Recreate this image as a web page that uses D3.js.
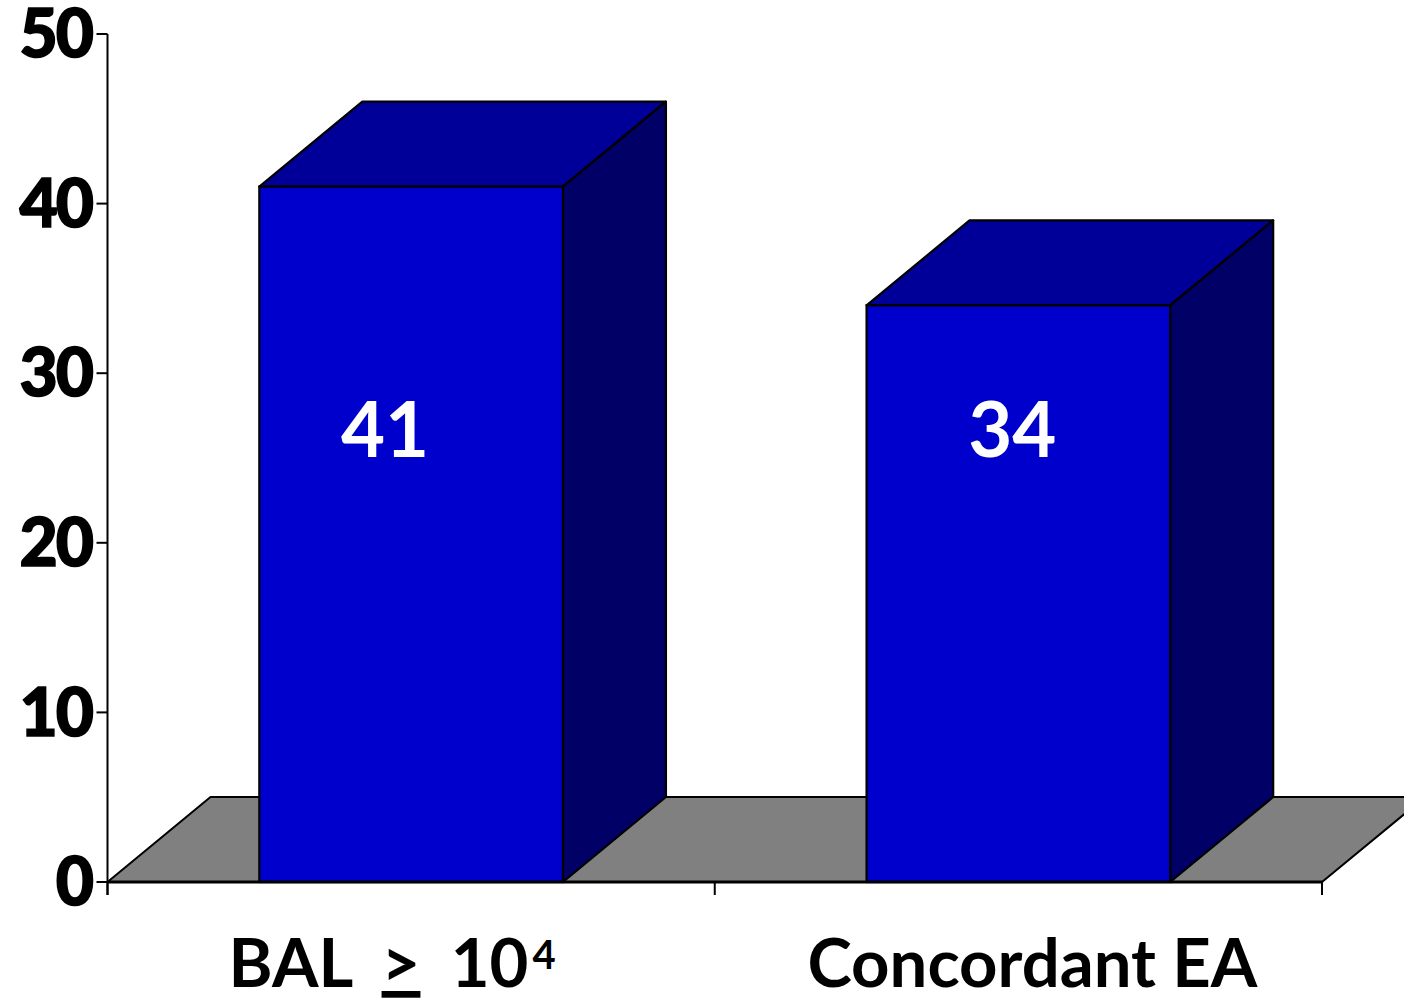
<!DOCTYPE html>
<html>
<head>
<meta charset="utf-8">
<script src="https://cdn.jsdelivr.net/npm/d3@7/dist/d3.min.js"></script>
<style>
  html, body { margin: 0; padding: 0; background: #fff; }
  svg { display: block; }
</style>
</head>
<body>
<svg id="chart" width="1404" height="1002"></svg>
<script>
// Data
const categories = ["BAL ≥ 10⁴", "Concordant EA"];
const values = [41, 34];
const yTicks = [0, 10, 20, 30, 40, 50];

const plotLeft = 107.5, plotRight = 1322, plotTop = 34, plotBottom = 882;
const depthX = 103, depthY = 85;

const svg = d3.select("#chart");

const x = d3.scaleBand().domain(categories).range([plotLeft, plotRight]).padding(0);
const y = d3.scaleLinear().domain([0, 50]).range([plotBottom, plotTop]);

const colors = { front: "#0000CC", top: "#000099", side: "#000066", floor: "#808080" };

// Floor (3D base plane)
const floor = [
  [plotLeft, y(0)], [plotRight, y(0)], [plotRight + depthX, y(0) - depthY], [plotLeft + depthX, y(0) - depthY]
];
svg.append("path")
  .attr("d", d3.line()(floor) + "Z")
  .attr("fill", colors.floor)
  .attr("stroke", "#000")
  .attr("stroke-width", 2)
  .attr("stroke-linejoin", "round");

// Bars
const bw = x.bandwidth() * 0.5;
const bars = svg.append("g").selectAll("g").data(categories).join("g");

bars.each(function (c, i) {
  const g = d3.select(this);
  const x0 = x(c) + x.bandwidth() * 0.25;
  const x1 = x0 + bw;
  const yt = y(values[i]);
  const yb = y(0);
  // top face
  g.append("path")
    .attr("d", d3.line()([[x0, yt], [x1, yt], [x1 + depthX, yt - depthY], [x0 + depthX, yt - depthY]]) + "Z")
    .attr("fill", colors.top).attr("stroke", "#000").attr("stroke-width", 2.2).attr("stroke-linejoin", "round");
  // side face
  g.append("path")
    .attr("d", d3.line()([[x1, yt], [x1 + depthX, yt - depthY], [x1 + depthX, yb - depthY], [x1, yb]]) + "Z")
    .attr("fill", colors.side).attr("stroke", "#000").attr("stroke-width", 2.2).attr("stroke-linejoin", "round");
  // front face
  g.append("rect")
    .attr("x", x0).attr("y", yt).attr("width", bw).attr("height", yb - yt)
    .attr("fill", colors.front).attr("stroke", "#000").attr("stroke-width", 2.2);
});

// Value labels
svg.append("g").selectAll("text").data(values).join("text")
  .attr("x", (d, i) => x(categories[i]) + x.bandwidth() / 2 - (i === 0 ? 26 : 6))
  .attr("y", 457)
  .attr("text-anchor", "middle")
  .attr("fill", "#fff")
  .attr("font-family", "Lato, 'DejaVu Sans', sans-serif")
  .attr("font-weight", 700)
  .attr("font-size", 76)
  .text(d => d);

// Y axis
const yAxis = svg.append("g");
yAxis.append("line")
  .attr("x1", plotLeft).attr("x2", plotLeft).attr("y1", y(50)).attr("y2", y(0) + 13)
  .attr("stroke", "#000").attr("stroke-width", 2);
yAxis.selectAll("line.tick").data(yTicks).join("line")
  .attr("class", "tick")
  .attr("x1", plotLeft - 11).attr("x2", plotLeft).attr("y1", d => y(d)).attr("y2", d => y(d))
  .attr("stroke", "#000").attr("stroke-width", 2);
yAxis.selectAll("text").data(yTicks).join("text")
  .attr("x", 92).attr("y", d => y(d))
  .attr("dy", "0.35em")
  .attr("text-anchor", "end")
  .attr("font-family", "Lato, 'DejaVu Sans', sans-serif")
  .attr("font-weight", 900)
  .attr("font-size", 66)
  .attr("letter-spacing", -2)
  .attr("stroke", "#000").attr("stroke-width", 1.5)
  .attr("fill", "#000")
  .text(d => d);

// X axis line and category ticks
svg.append("line")
  .attr("x1", plotLeft).attr("x2", plotRight).attr("y1", y(0)).attr("y2", y(0))
  .attr("stroke", "#000").attr("stroke-width", 3);
svg.selectAll("line.xtick").data([...categories.map(c => x(c)), plotRight]).join("line")
  .attr("class", "xtick")
  .attr("x1", d => d).attr("x2", d => d).attr("y1", y(0)).attr("y2", y(0) + 13)
  .attr("stroke", "#000").attr("stroke-width", 2);

// Category labels
const catFont = { family: "Lato, 'DejaVu Sans', sans-serif", size: 67 };
const l1 = svg.append("text")
  .attr("x", x(categories[0]) + x.bandwidth() / 2 - 19).attr("y", 987)
  .attr("text-anchor", "middle")
  .attr("font-family", catFont.family).attr("font-weight", 700).attr("font-size", catFont.size)
  .attr("word-spacing", 14)
  .attr("fill", "#000");
l1.append("tspan").text("BAL ");
l1.append("tspan").attr("text-decoration", "underline").text(">");
l1.append("tspan").text(" 10");
l1.append("tspan").attr("font-size", 40).attr("dx", 4).attr("dy", -18).text("4");

svg.append("text")
  .attr("x", x(categories[1]) + x.bandwidth() / 2 + 14).attr("y", 987)
  .attr("text-anchor", "middle")
  .attr("font-family", catFont.family).attr("font-weight", 700).attr("font-size", catFont.size)
  .attr("fill", "#000")
  .text(categories[1]);
</script>
</body>
</html>
